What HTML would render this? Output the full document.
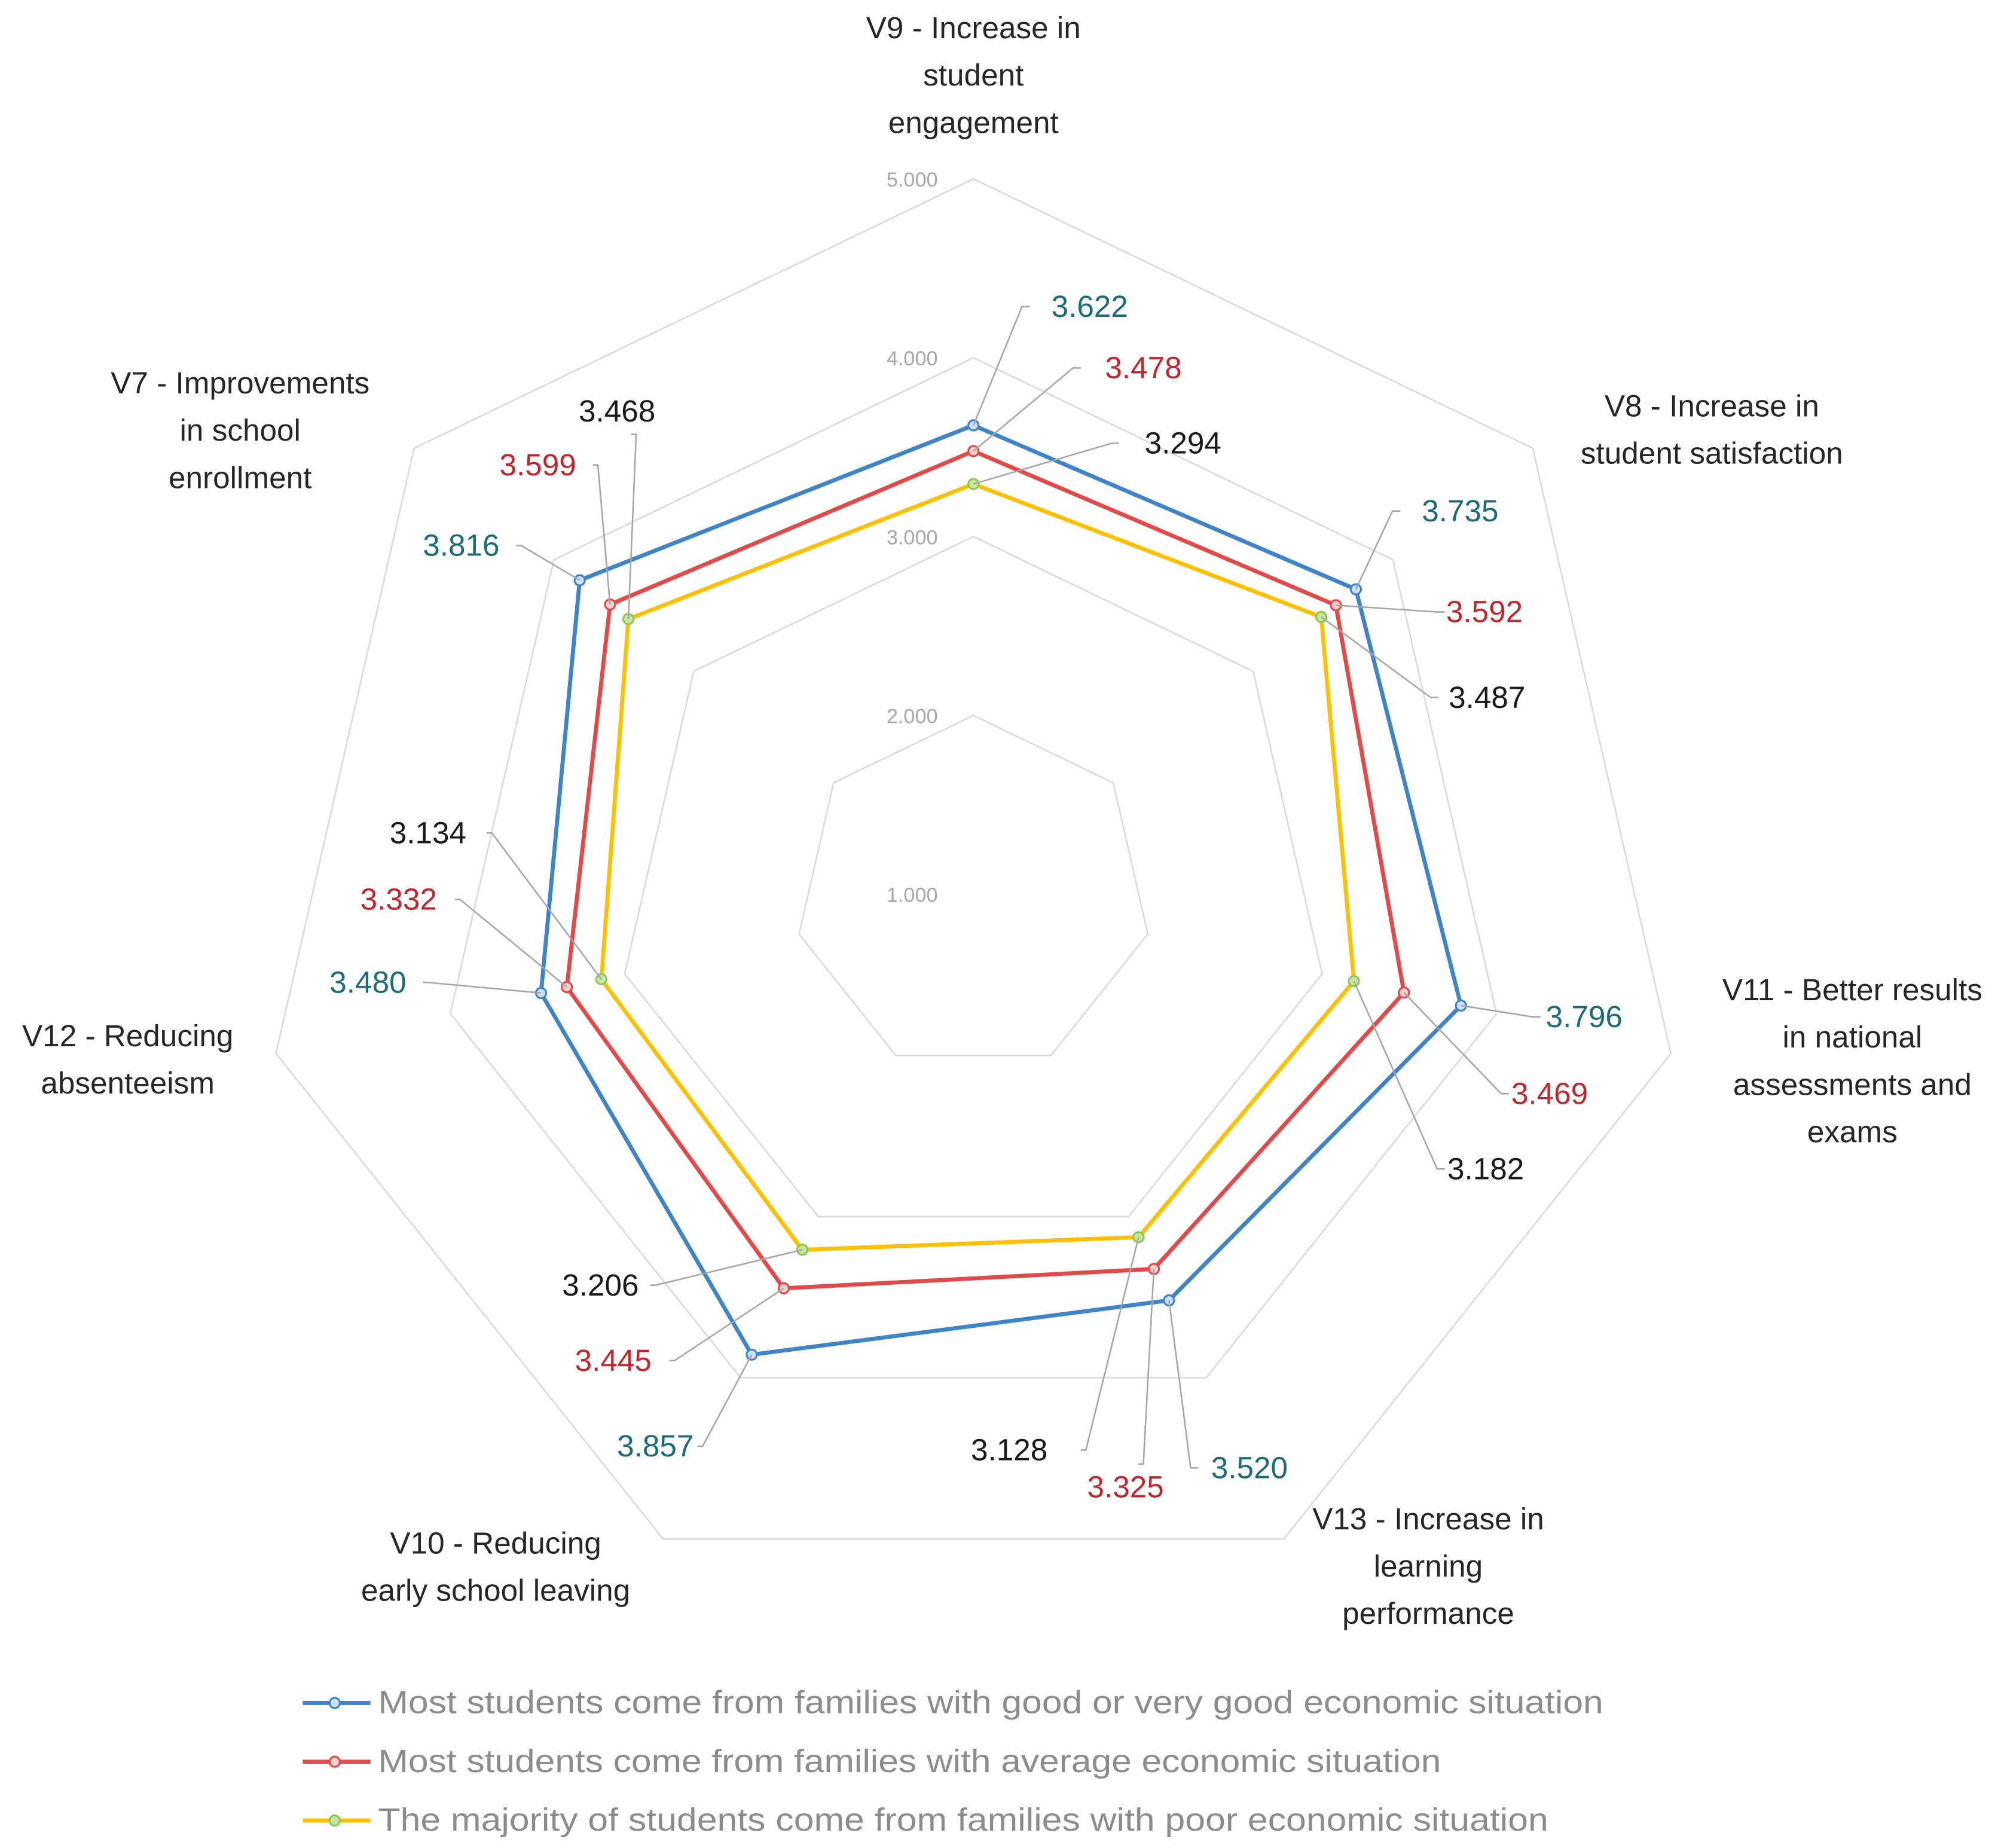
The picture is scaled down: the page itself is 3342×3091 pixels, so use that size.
<!DOCTYPE html>
<html><head><meta charset="utf-8"><style>
html,body{margin:0;padding:0;background:#fff;}
svg{display:block;font-family:"Liberation Sans",sans-serif;}
</style></head><body>
<svg id="chart" width="3342" height="3091" viewBox="0 0 1564 1446.5" xmlns="http://www.w3.org/2000/svg">
<rect width="1564" height="1447" fill="#fff"/>
<g id="grid"></g>
<g id="ticks"></g>
<g id="axislabels"></g>
<g id="series"></g>
<g id="datalabels"></g>
<g id="legend"></g>
</svg>
<script>
const categories = ["V9 - Increase in|student|engagement","V8 - Increase in|student satisfaction","V11 - Better results|in national|assessments and|exams","V13 - Increase in|learning|performance","V10 - Reducing|early school leaving","V12 - Reducing|absenteeism","V7 - Improvements|in school|enrollment"];
const goodValues = [3.622,3.735,3.796,3.520,3.857,3.480,3.816];
const averageValues = [3.478,3.592,3.469,3.325,3.445,3.332,3.599];
const poorValues = [3.294,3.487,3.182,3.128,3.206,3.134,3.468];
const tickValues = [1,2,3,4,5];
const tickLabels = ["1.000","2.000","3.000","4.000","5.000"];
const seriesNames = ["Most students come from families with good or very good economic situation","Most students come from families with average economic situation","The majority of students come from families with poor economic situation"];

const NS="http://www.w3.org/2000/svg";
const cx=762, cy=700, unit=140, vmin=1;
function ang(i){return i*2*Math.PI/categories.length;}
function pt(i,v){const r=(v-vmin)*unit;return [cx+r*Math.sin(ang(i)), cy-r*Math.cos(ang(i))];}
function mk(tag,attrs,parent){const e=document.createElementNS(NS,tag);for(const k in attrs)e.setAttribute(k,attrs[k]);parent.appendChild(e);return e;}

const grid=document.getElementById('grid');
tickValues.forEach((t,ti)=>{
  if(t===vmin) return;
  const p=categories.map((c,i)=>pt(i,t).join(',')).join(' ');
  const g=mk('polygon',{points:p,fill:'none',stroke:'#d9d9d9','stroke-width':1.2},grid);
  
  
});
const ticks=document.getElementById('ticks');
tickValues.forEach((t,ti)=>{
  const y=cy-(t-vmin)*unit;
  const e=mk('text',{x:714,y:y+6,'text-anchor':'middle','font-size':16,fill:'#a6a6a6'},ticks);
  e.textContent=tickLabels[ti];
  
  
});
const alabPos=[[762,30],[1340,326],[1450,783],[1118,1197],[388,1216],[100,819],[188,308]];
const ax=document.getElementById('axislabels');
categories.forEach((c,i)=>{
  const lines=c.split('|');
  const e=mk('text',{x:alabPos[i][0],y:alabPos[i][1],'text-anchor':'middle','font-size':24,fill:'#262626'},ax);
  
  
  lines.forEach((l,j)=>{const s=mk('tspan',{x:alabPos[i][0],dy:j?37:0},e);s.textContent=l;});
});
const colors=['#3f84c6','#e24a4a','#ffc000'];
const markerFill=['#cfe0f3','#f7cfcf','#c8e6a0'];
const markerStroke=['#3f84c6','#e24a4a','#8fc75a'];
const labelColors=['#1d6a78','#c0262d','#1a1a1a'];
const allSeries=[goodValues,averageValues,poorValues];
const sg=document.getElementById('series');
const dl=document.getElementById('datalabels');
const lab=[
 [[823,248,800,240],[865,296,840,288],[896,355,870,347]],
 [[1113,408,1090,400],[1132,487,1125,479],[1134,554,1120,546]],
 [[1210,804,1200,796],[1183,864,1175,856],[1133,923,1125,915]],
 [[948,1157,932,1149],[851,1172,895,1146],[760,1143,850,1135]],
 [[483,1140,550,1132],[450,1073,528,1065],[440,1014,513,1006]],
 [[258,777,335,769],[282,712,360,704],[305,660,385,652]],
 [[331,435,408,427],[391,372,468,364],[453,330,498,340]]
];
allSeries.forEach((vals,s)=>{
  const p=vals.map((v,i)=>pt(i,v).join(',')).join(' ');
  const pl=mk('polygon',{points:p,fill:'none',stroke:colors[s],'stroke-width':3.2,'stroke-linejoin':'round'},sg);
  
  
});
allSeries.forEach((vals,s)=>{
  vals.forEach((v,i)=>{
    const [x,y]=pt(i,v);
    const L=lab[i][s];
    const ln=mk('polyline',{points:x+','+y+' '+L[2]+','+L[3]+' '+(L[2]+ (L[0]<L[2]?-4:6))+','+L[3],fill:'none',stroke:'#a6a6a6','stroke-width':1.2},dl);
    
    
    const c=mk('circle',{cx:x,cy:y,r:4,fill:markerFill[s],stroke:markerStroke[s],'stroke-width':1.5},sg);
    
    
    const t=mk('text',{x:L[0],y:L[1],'font-size':24,fill:labelColors[s]},dl);
    t.textContent=v.toFixed(3);
    
    
  });
});
const legendEnds=[1255,1128,1212];
const lg=document.getElementById('legend');
seriesNames.forEach((n,s)=>{
  const y=1333+s*46;
  const g=mk('g',{},lg);
  
  
  mk('line',{x1:237,y1:y,x2:290,y2:y,stroke:colors[s],'stroke-width':3.2},g);
  mk('circle',{cx:262,cy:y,r:4,fill:markerFill[s],stroke:markerStroke[s],'stroke-width':1.5},g);
  const t=mk('text',{x:296,y:y+8,'font-size':25,fill:'#8c8c8c',textLength:legendEnds[s]-296,lengthAdjust:'spacingAndGlyphs'},g);
  t.textContent=n;
});
</script>
</body></html>
